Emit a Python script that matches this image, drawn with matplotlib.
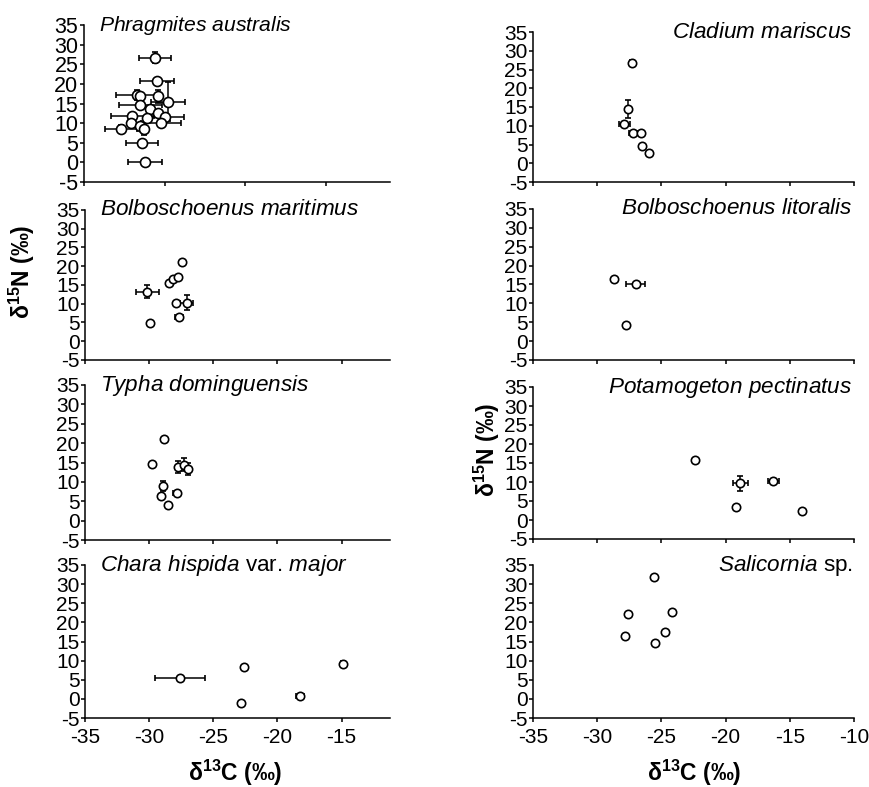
import numpy as np
import matplotlib.pyplot as plt

plt.rcParams['font.family'] = ['Liberation Sans', 'DejaVu Sans']
plt.rcParams['mathtext.fontset'] = 'custom'
plt.rcParams['mathtext.rm'] = 'Liberation Sans'
plt.rcParams['mathtext.it'] = 'Liberation Sans:italic'
plt.rcParams['mathtext.bf'] = 'Liberation Sans:bold'
plt.rcParams['axes.unicode_minus'] = False

# d13C, d15N and errors (0 = no bar) per species
phrag_x = [-30.6, -30.45, -31.7, -31.5, -30.4, -29.8, -31.5, -30.9, -30.4, -32.0,
           -31.1, -30.0, -30.2, -32.1, -31.5, -32.7, -31.3, -31.4, -31.2]
phrag_y = [26.7, 20.8, 17.2, 16.8, 16.8, 15.5, 14.5, 13.7, 12.5, 11.8,
           11.3, 11.5, 10.1, 10.1, 9.2, 8.4, 8.4, 5.0, 0.0]
phrag_xerr = [1.0, 1.05, 1.3, 0.0, 0.0, 1.05, 1.35, 0.0, 0.0, 1.35,
              0.0, 1.2, 1.25, 0.0, 0.0, 1.0, 0.0, 1.0, 1.05]
phrag_yerr = [1.5, 0.0, 1.3, 0.0, 1.7, 5.0, 0.0, 0.0, 0.0, 0.0,
              0.0, 0.0, 0.0, 0.0, 0.0, 1.0, 1.5, 0.0, 0.0]

clad_x = [-27.26, -27.57, -27.88, -27.21, -26.58, -26.48, -26.0]
clad_y = [26.8, 14.5, 10.6, 8.1, 8.2, 4.5, 2.8]
clad_xerr = [0.2, 0.0, 0.45, 0.35, 0.0, 0.0, 0.0]
clad_yerr = [0.6, 2.4, 0.0, 0.0, 0.5, 0.0, 0.0]

bmar_x = [-30.14, -29.96, -28.45, -28.12, -27.75, -27.47, -27.94, -27.08, -27.68]
bmar_y = [13.2, 4.9, 15.6, 16.7, 17.2, 21.0, 10.2, 10.3, 6.5]
bmar_xerr = [0.87, 0, 0, 0, 0, 0, 0, 0.5, 0.33]
bmar_yerr = [1.8, 0, 0, 0, 0, 0, 0, 2.0, 0]

blit_x = [-28.69, -27.0, -27.73]
blit_y = [16.4, 15.0, 4.2]
blit_xerr = [0, 0.75, 0]
blit_yerr = [0, 0, 0]

typha_x = [-29.75, -28.84, -28.9, -29.1, -28.53, -27.86, -27.75, -27.3, -26.95]
typha_y = [14.7, 21.0, 9.05, 6.3, 4.05, 7.1, 13.8, 14.4, 13.3]
typha_xerr = [0, 0, 0, 0, 0, 0.25, 0, 0, 0]
typha_yerr = [0, 0, 1.3, 0, 0, 0, 1.5, 1.7, 1.5]

potam_x = [-22.35, -18.84, -19.2, -16.3, -14.04]
potam_y = [15.8, 9.65, 3.45, 10.2, 2.4]
potam_xerr = [0, 0.62, 0, 0.43, 0]
potam_yerr = [0, 1.9, 0, 0, 0]

chara_x = [-27.6, -22.58, -22.84, -18.27, -14.87]
chara_y = [5.4, 8.3, -0.96, 0.8, 9.1]
chara_xerr = [1.96, 0, 0, 0.3, 0]
chara_yerr = [0, 0, 0, 0, 0.8]

salic_x = [-25.6, -27.61, -24.14, -27.87, -24.71, -25.47]
salic_y = [31.9, 22.2, 22.6, 16.4, 17.6, 14.6]
salic_xerr = [0, 0, 0, 0, 0, 0]
salic_yerr = [0, 0, 0, 0, 0, 0]

W, H = 870, 787
fig = plt.figure(figsize=(W / 100, H / 100), dpi=100)


def add_axes(l, t, r, b):
    return fig.add_axes([l / W, 1 - b / H, (r - l) / W, (b - t) / H])


# (data, title, rect px, xmax, big, title side, bottom row)
panels = [
    ((phrag_x, phrag_y, phrag_xerr, phrag_yerr), r'$\mathit{Phragmites\ australis}$',
     (84, 25, 390, 182), -16.0, True, 'left', False),
    ((clad_x, clad_y, clad_xerr, clad_yerr), r'$\mathit{Cladium\ mariscus}$',
     (533, 32, 854, 182), -10, False, 'right', False),
    ((bmar_x, bmar_y, bmar_xerr, bmar_yerr), r'$\mathit{Bolboschoenus\ maritimus}$',
     (85, 210, 390, 360), -11.23, False, 'left', False),
    ((blit_x, blit_y, blit_xerr, blit_yerr), r'$\mathit{Bolboschoenus\ litoralis}$',
     (533, 209, 854, 360), -10, False, 'right', False),
    ((typha_x, typha_y, typha_xerr, typha_yerr), r'$\mathit{Typha\ dominguensis}$',
     (85, 385, 390, 540), -11.23, False, 'left', False),
    ((potam_x, potam_y, potam_xerr, potam_yerr), r'$\mathit{Potamogeton\ pectinatus}$',
     (533, 387, 854, 539), -10, False, 'right', False),
    ((chara_x, chara_y, chara_xerr, chara_yerr), r'$\mathit{Chara\ hispida}$ var. $\mathit{major}$',
     (85, 565, 390, 718), -11.23, False, 'left', True),
    ((salic_x, salic_y, salic_xerr, salic_yerr), r'$\mathit{Salicornia}$ sp.',
     (533, 565, 854, 718), -10, False, 'right', True),
]

for (x, y, xe, ye), title, rect, xmax, big, side, bottom in panels:
    ax = add_axes(*rect)
    ms = 7.2 if big else 6
    ax.errorbar(x, y, xerr=xe, yerr=ye, fmt='o', ms=ms, mfc='white', mec='black',
                mew=1.2, ecolor='black', elinewidth=1.1, capsize=2.5, capthick=1.1)
    ax.set_xlim(-35, xmax)
    ax.set_ylim(-5, 35)
    ax.set_yticks(np.arange(-5, 36, 5))
    ax.set_xticks([t for t in range(-35, -9, 5) if t <= xmax])
    for s in ('top', 'right'):
        ax.spines[s].set_visible(False)
    for s in ('left', 'bottom'):
        ax.spines[s].set_linewidth(1.1)
    ax.tick_params(direction='out', length=3, width=1.1, labelsize=15.5 if big else 15, pad=1)
    if not bottom:
        ax.tick_params(axis='x', labelbottom=False)
    else:
        ax.tick_params(axis='x', pad=4)
    fs = 15.2 if big else 16.2
    if side == 'left':
        ax.text(0.05, 1.0, title, transform=ax.transAxes, ha='left', va='center', fontsize=fs)
    else:
        ax.text(0.995, 1.0, title, transform=ax.transAxes, ha='right', va='center', fontsize=fs)

ylab = r'$\mathbf{\delta}^{\mathbf{15}}$N (‰)'
fig.text(22 / W, 1 - 272 / H, ylab, rotation=90, ha='center', va='center',
         fontsize=16.5, fontweight='bold')
fig.text(487 / W, 1 - 450 / H, ylab, rotation=90, ha='center', va='center',
         fontsize=16.5, fontweight='bold')
xlab = r'$\mathbf{\delta}^{\mathbf{13}}$C (‰)'
fig.text(235 / W, 1 - 773 / H, xlab, ha='center', va='center', fontsize=16.5, fontweight='bold')
fig.text(694 / W, 1 - 773 / H, xlab, ha='center', va='center', fontsize=16.5, fontweight='bold')

fig.savefig('out.png', dpi=100, facecolor='white')
